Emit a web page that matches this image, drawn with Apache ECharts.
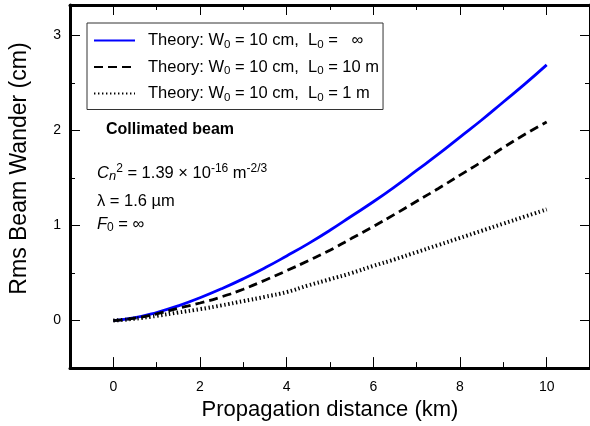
<!DOCTYPE html>
<html>
<head>
<meta charset="utf-8">
<script src="https://cdn.jsdelivr.net/npm/echarts@6/dist/echarts.min.js"></script>
<style>html,body{margin:0;padding:0;background:#fff}#c{width:590px;height:426px}</style>
</head>
<body>
<div id="c"></div>
<script>
var distance = [0,0.5,1,1.5,2,2.5,3,3.5,4,4.5,5,5.5,6,6.5,7,7.5,8,8.5,9,9.5,10];
var wanderInf = [0,0.03,0.085,0.155,0.24,0.335,0.44,0.555,0.68,0.81,0.95,1.10,1.25,1.41,1.58,1.75,1.93,2.11,2.30,2.49,2.69];
var wander10m = [0,0.025,0.07,0.13,0.185,0.25,0.33,0.425,0.525,0.63,0.74,0.865,0.99,1.12,1.255,1.39,1.53,1.67,1.82,1.96,2.09];
var wander1m = [0,0.02,0.05,0.085,0.12,0.16,0.205,0.25,0.30,0.37,0.435,0.50,0.575,0.645,0.72,0.795,0.87,0.945,1.02,1.095,1.17];
var xMajorTicks = [0,2,4,6,8,10];
var xMinorTicks = [1,3,5,7,9];
var yMajorTicks = [0,1,2,3];
var yMinorTicks = [0.5,1.5,2.5];
var seriesNames = ['L0 = inf','L0 = 10 m','L0 = 1 m'];
var legendLabels = {
  'L0 = inf': '{n|Theory: W}{s|0}{n| = 10 cm,  L}{s|0}{n| =   \u221e}',
  'L0 = 10 m': '{n|Theory: W}{s|0}{n| = 10 cm,  L}{s|0}{n| = 10 m}',
  'L0 = 1 m': '{n|Theory: W}{s|0}{n| = 10 cm,  L}{s|0}{n| = 1 m}'
};

var FONT = '"Liberation Sans", Arial, sans-serif';
function pairs(ys){ return distance.map(function(x,i){ return [x, ys[i]]; }); }

var XMIN = -1, XMAX = 11, YMIN = -0.5, YMAX = 3.32;

function xAx(pos, ticks, len, showLine, showLabel){
  return {
    type:'value', position:pos, min:XMIN, max:XMAX,
    axisLine:{show:showLine, onZero:false, lineStyle:{color:'#000', width:3}},
    axisTick:{show:true, inside:true, length:len, customValues:ticks, lineStyle:{color:'#000', width:1}},
    axisLabel:{show:showLabel, customValues:ticks, margin:12, color:'#000', fontSize:14, fontFamily:FONT},
    splitLine:{show:false}
  };
}
function yAx(pos, ticks, len, showLine, showLabel){
  return {
    type:'value', position:pos, min:YMIN, max:YMAX,
    axisLine:{show:showLine, onZero:false, lineStyle:{color:'#000', width:3}},
    axisTick:{show:true, inside:true, length:len, customValues:ticks, lineStyle:{color:'#000', width:1}},
    axisLabel:{show:showLabel, customValues:ticks, margin:9, color:'#000', fontSize:14, fontFamily:FONT},
    splitLine:{show:false}
  };
}

var xAxes = [
  xAx('bottom', xMajorTicks, 11, true, true),
  xAx('bottom', xMinorTicks, 6, false, false),
  xAx('top', xMajorTicks, 10, true, false),
  xAx('top', xMinorTicks, 5, false, false)
];
xAxes[0].name = 'Propagation distance (km)';
xAxes[0].nameLocation = 'middle';
xAxes[0].nameGap = 26;
xAxes[0].nameTextStyle = {color:'#000', fontSize:22, fontFamily:FONT};

var yAxes = [
  yAx('left', yMajorTicks, 10, true, true),
  yAx('left', yMinorTicks, 5, false, false),
  yAx('right', yMajorTicks, 10, true, false),
  yAx('right', yMinorTicks, 5, false, false)
];
yAxes[0].name = 'Rms Beam Wander (cm)';
yAxes[0].nameLocation = 'middle';
yAxes[0].nameGap = 39;
yAxes[0].nameTextStyle = {color:'#000', fontSize:23, fontFamily:FONT, padding:[0,0,0,36]};

var subRich = {
  n:{fontSize:16.5, lineHeight:20, fontFamily:FONT, color:'#000'},
  s:{fontSize:11.5, lineHeight:5, verticalAlign:'bottom', fontFamily:FONT, color:'#000'}
};

var annRich = {
  n:{fontSize:16.5, lineHeight:20, fontFamily:FONT, color:'#000'},
  i:{fontSize:16.5, lineHeight:20, fontStyle:'italic', fontFamily:FONT, color:'#000'},
  s:{fontSize:12, lineHeight:5, verticalAlign:'bottom', fontFamily:FONT, color:'#000'},
  si:{fontSize:13, lineHeight:5, verticalAlign:'bottom', fontStyle:'italic', fontFamily:FONT, color:'#000'},
  p:{fontSize:12, lineHeight:7, verticalAlign:'top', fontFamily:FONT, color:'#000'}
};

var chart = echarts.init(document.getElementById('c'), null, {renderer:'canvas'});
chart.setOption({
  animation:false,
  backgroundColor:'#fff',
  grid:{left:70, top:5, width:528, height:364, containLabel:false},
  xAxis:xAxes,
  yAxis:yAxes,
  legend:{
    data:seriesNames,
    orient:'vertical', left:87, top:23,
    padding:[9,4,6,6],
    itemGap:8, itemWidth:41, itemHeight:14,
    backgroundColor:'#fff', borderColor:'#333', borderWidth:1, borderRadius:0,
    itemStyle:{opacity:0},
    formatter:function(name){ return legendLabels[name]; },
    textStyle:{color:'#000', fontSize:16.5, fontFamily:FONT, padding:[0,0,0,8], rich:subRich}
  },
  graphic:[
    {type:'text', left:106, top:122, style:{text:'Collimated beam', fill:'#000', font:'bold 16px ' + FONT}},
    {type:'text', x:97, y:173, style:{
      text:'{i|C}{si|n}{p|2}{n| = 1.39 \u00d7 10}{p|-16}{n| m}{p|-2/3}',
      verticalAlign:'middle', rich:annRich}},
    {type:'text', x:97, y:201, style:{
      text:'{n|\u03bb = 1.6 \u00b5m}', verticalAlign:'middle', rich:annRich}},
    {type:'text', x:97, y:224, style:{
      text:'{i|F}{s|0}{n| = \u221e}', verticalAlign:'middle', rich:annRich}}
  ],
  series:[
    {name:seriesNames[0], type:'line', xAxisIndex:0, yAxisIndex:0, data:pairs(wanderInf), smooth:true, symbol:'none',
      lineStyle:{color:'#0000ff', width:2.8, type:'solid'}, itemStyle:{color:'#0000ff'}},
    {name:seriesNames[1], type:'line', xAxisIndex:0, yAxisIndex:0, data:pairs(wander10m), smooth:true, symbol:'none',
      lineStyle:{color:'#000', width:2.8, type:[9,5]}, itemStyle:{color:'#000'}},
    {name:seriesNames[2], type:'line', xAxisIndex:0, yAxisIndex:0, data:pairs(wander1m), smooth:true, symbol:'none',
      lineStyle:{color:'#000', width:4, type:[1.4,2.6]}, itemStyle:{color:'#000'}}
  ]
});
</script>
</body>
</html>
